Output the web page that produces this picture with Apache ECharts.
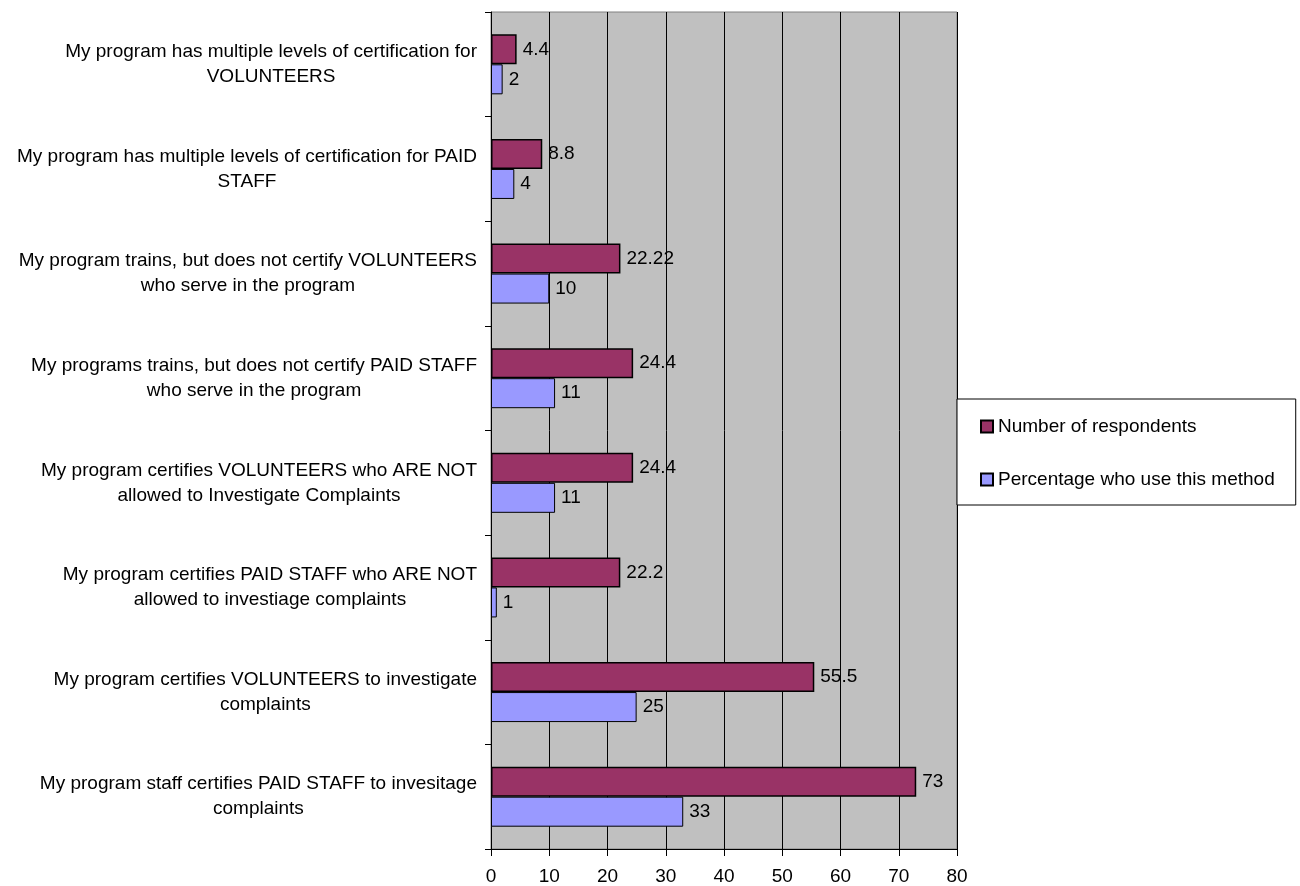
<!DOCTYPE html>
<html>
<head>
<meta charset="utf-8">
<title>Certification methods</title>
<script src="https://cdn.jsdelivr.net/npm/echarts@6/dist/echarts.min.js"></script>
<style>
  html, body { margin: 0; padding: 0; background: #ffffff; }
  #chart { width: 1300px; height: 886px; }
</style>
</head>
<body>
<div id="chart"></div>
<script>
// categories, listed top to bottom as in the picture
const categories = [
  'My program has multiple levels of certification for\nVOLUNTEERS',
  'My program has multiple levels of certification for PAID\nSTAFF',
  'My program trains, but does not certify VOLUNTEERS\nwho serve in the program',
  'My programs trains, but does not certify PAID STAFF\nwho serve in the program',
  'My program certifies VOLUNTEERS who ARE NOT\nallowed to Investigate Complaints',
  'My program certifies PAID STAFF who ARE NOT\nallowed to investiage complaints',
  'My program certifies VOLUNTEERS to investigate\ncomplaints',
  'My program staff certifies PAID STAFF to invesitage\ncomplaints'
]
const respondents = [4.4, 8.8, 22.22, 24.4, 24.4, 22.2, 55.5, 73]
const percentage = [2, 4, 10, 11, 11, 1, 25, 33]
const seriesNames = ['Number of respondents', 'Percentage who use this method']

const FONT = '"Liberation Sans", Arial, sans-serif'
const chart = echarts.init(document.getElementById('chart'))

// each line its own rich token so lines are centred inside the label block
const centreLines = (v) => v.split('\n').map(l => '{c|' + l + '}').join('\n')

const barLabel = {
  show: true,
  position: 'right',
  distance: 6,
  color: '#000',
  fontSize: 19,
  fontFamily: FONT
}

const option = {
  animation: false,
  textStyle: { fontFamily: FONT, color: '#000' },
  grid: {
    left: 491,
    right: 343,
    top: 12,
    bottom: 37,
    show: true,
    backgroundColor: '#c0c0c0',
    borderColor: '#808080',
    borderWidth: 1
  },
  legend: {
    orient: 'vertical',
    left: 957,
    top: 399,
    padding: [18, 21, 16, 23],
    itemWidth: 12,
    itemHeight: 12,
    itemGap: 34,
    backgroundColor: '#ffffff',
    borderColor: '#000',
    borderWidth: 1,
    borderRadius: 0,
    icon: 'rect',
    textStyle: { fontSize: 19, color: '#000', fontFamily: FONT },
    data: seriesNames
  },
  xAxis: {
    type: 'value',
    min: 0,
    max: 80,
    interval: 10,
    axisLine: { show: true, lineStyle: { color: '#000', width: 1 } },
    axisTick: { show: true, length: 7, lineStyle: { color: '#000' } },
    axisLabel: { fontSize: 19, color: '#000', margin: 18, fontFamily: FONT },
    splitLine: { show: true, lineStyle: { color: '#000', width: 1 } }
  },
  yAxis: {
    type: 'category',
    inverse: true,
    data: categories,
    axisLine: { show: true, lineStyle: { color: '#000', width: 1 } },
    axisTick: { show: true, length: 6, lineStyle: { color: '#000' } },
    axisLabel: {
      margin: 14,
      color: '#000',
      fontSize: 19,
      lineHeight: 25,
      fontFamily: FONT,
      formatter: centreLines,
      rich: { c: { align: 'center', fontSize: 19, lineHeight: 25, fontFamily: FONT, color: '#000' } }
    },
    splitLine: { show: false }
  },
  series: [
    {
      name: seriesNames[0],
      type: 'bar',
      data: respondents,
      barWidth: 30,
      barGap: '0%',
      itemStyle: { color: '#993366', borderColor: '#000', borderWidth: 1.5 },
      label: barLabel
    },
    {
      name: seriesNames[1],
      type: 'bar',
      data: percentage,
      barWidth: 30,
      barGap: '0%',
      itemStyle: { color: '#9999ff', borderColor: '#000', borderWidth: 1 },
      label: barLabel
    }
  ]
}

chart.setOption(option)
</script>
</body>
</html>
